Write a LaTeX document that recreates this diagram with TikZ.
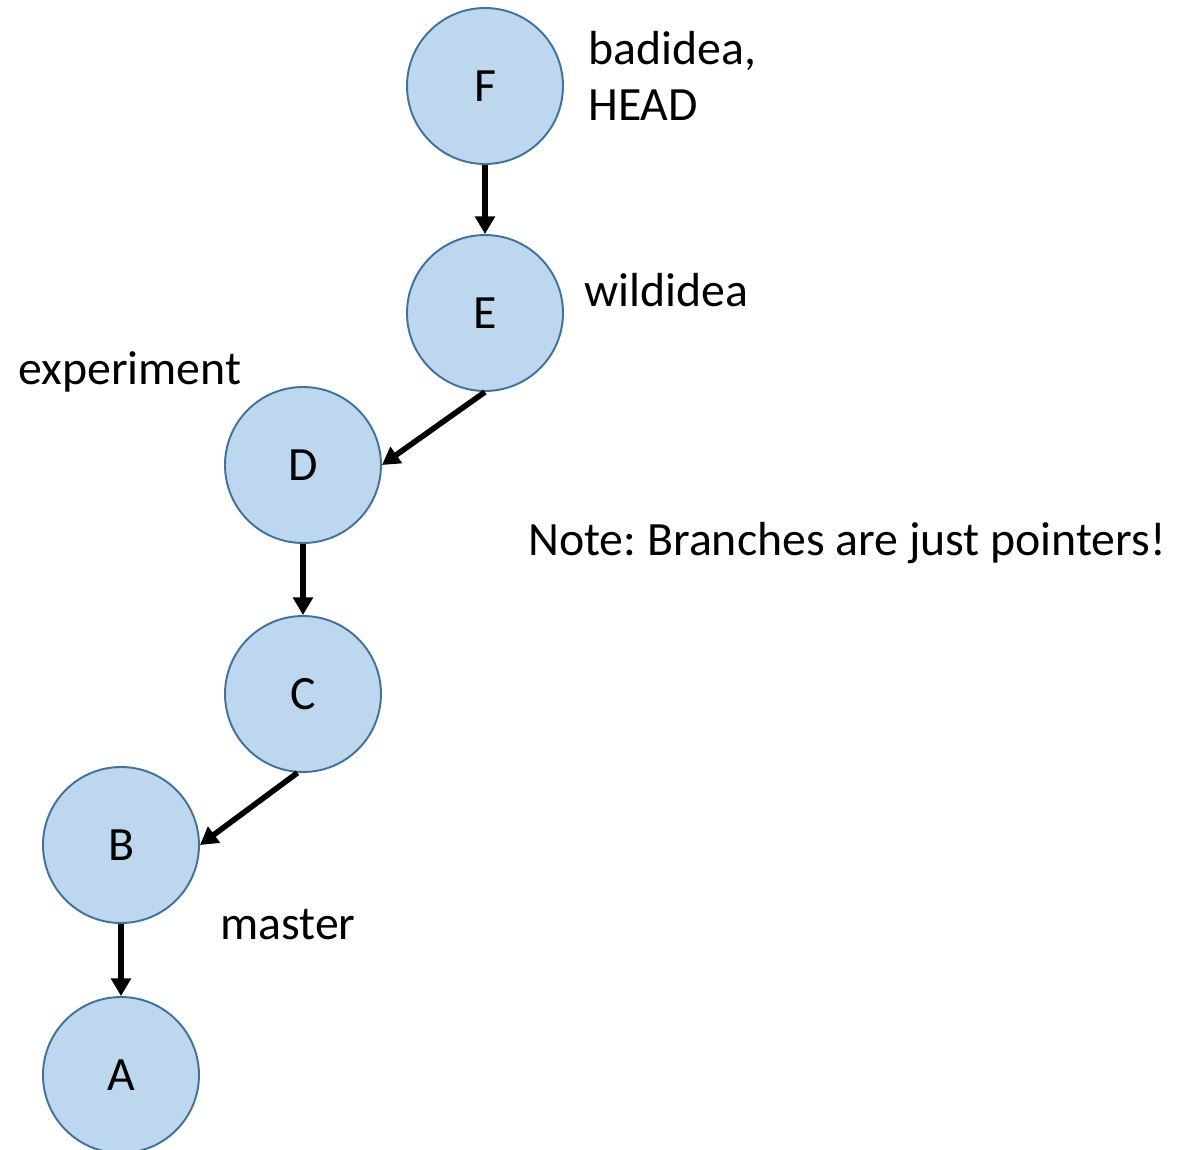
\documentclass[tikz,border=0pt]{standalone}
\usepackage{fontspec}
\setmainfont{Carlito}
\usetikzlibrary{arrows.meta}
\definecolor{commitfill}{HTML}{BDD7EE}
\definecolor{commitline}{HTML}{41719C}
\frenchspacing
\begin{document}
\begin{tikzpicture}[x=0.02cm,y=-0.02cm,
  commit/.style={circle,draw=commitline,fill=commitfill,line width=1.1pt,
    minimum size=156*0.02cm,inner sep=0pt,font=\fontsize{27.2}{32}\selectfont},
  label/.style={inner sep=0pt,font=\fontsize{27.2}{31.8}\selectfont,align=left},
  parent/.style={-{Triangle[length=10pt,width=11pt]},line width=3.2pt}]
  \useasboundingbox (0,0) rectangle (1194,1150);
  % commits
  \node[commit] (F) at (485,86)   {F};
  \node[commit] (E) at (485,313)  {E};
  \node[commit] (D) at (303,465)  {D};
  \node[commit] (C) at (303,694)  {C};
  \node[commit] (B) at (121,845)  {B};
  \node[commit] (A) at (121,1075) {A};
  % parent links
  \draw[parent] (F.south) -- (E.north);
  \draw[parent] (E.south) -- (D.east);
  \draw[parent] (D.south) -- (C.north);
  \draw[parent] (C.-94) -- (B.east);
  \draw[parent] (B.south) -- (A.north);
  % branch labels
  \node[label,anchor=north west] (lbad) at (588,31) {badidea,\\HEAD};
  \node[label,anchor=base west] (lwild) at (584,306) {wildidea};
  \node[label,anchor=base west] (lexp) at (18,384) {experiment};
  \node[label,anchor=base west] (lmaster) at (220,939) {master};
  \node[label,anchor=base west] (lnote) at (528,555) {Note: Branches are just pointers!};
\end{tikzpicture}
\end{document}
